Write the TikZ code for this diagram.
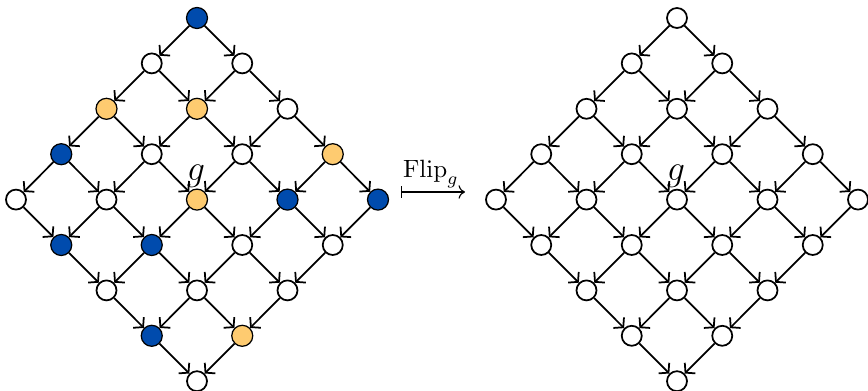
\documentclass[tikz,border=0pt]{standalone}
\usetikzlibrary{arrows.meta}
\definecolor{myblue}{RGB}{0,75,173}
\definecolor{myorange}{RGB}{254,203,112}
\begin{document}
\begin{tikzpicture}[x=0.4pt,y=-0.4pt,
  vtx/.style={circle,draw=black,line width=0.7pt,fill=white,minimum size=8pt,inner sep=0pt},
  wh/.style={vtx},
  bl/.style={vtx,fill=myblue,line width=0.5pt,minimum size=8.4pt},
  or/.style={vtx,fill=myorange,line width=0.5pt,minimum size=8.4pt},
  conn/.style={-{Straight Barb[length=2.6pt,width=6pt]},line width=0.7pt}]
\useasboundingbox (0,0) rectangle (868,391);
% left grid
\foreach \i/\j/\s in {0/0/bl,0/1/wh,0/2/wh,0/3/or,0/4/bl,
                      1/0/wh,1/1/or,1/2/wh,1/3/bl,1/4/wh,
                      2/0/or,2/1/wh,2/2/or,2/3/wh,2/4/wh,
                      3/0/bl,3/1/wh,3/2/bl,3/3/wh,3/4/or,
                      4/0/wh,4/1/bl,4/2/wh,4/3/bl,4/4/wh}{
  \node[\s] (L-\i-\j) at ({197+(\j-\i)*45.25},{18+(\i+\j)*45.4}) {};
  \node[wh] (R-\i-\j) at ({677+(\j-\i)*45.25},{18+(\i+\j)*45.4}) {};
}
\foreach \i in {0,...,4}{
  \foreach \j in {0,...,3}{
    \pgfmathtruncatemacro{\jn}{\j+1}
    \draw[conn] (L-\i-\j) -- (L-\i-\jn);
    \draw[conn] (R-\i-\j) -- (R-\i-\jn);
    \draw[conn] (L-\j-\i) -- (L-\jn-\i);
    \draw[conn] (R-\j-\i) -- (R-\jn-\i);
  }
}
\node (gL) at (196,176) {\Large $g$};
\node (gR) at (676,176) {\Large $g$};
\node (flip) at (431,174) {$\mathrm{Flip}_g$};
\coordinate (a1) at (401,192);
\coordinate (a2) at (465,192);
\draw[|->,line width=0.45pt] (a1) -- (a2);
\end{tikzpicture}
\end{document}
